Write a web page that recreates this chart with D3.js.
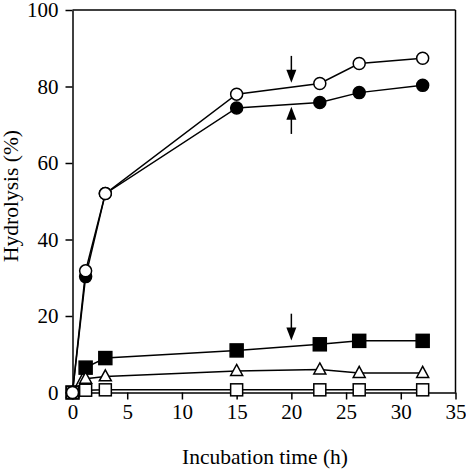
<!DOCTYPE html>
<html><head><meta charset="utf-8">
<script src="https://cdn.jsdelivr.net/npm/d3@7"></script>
<style>body{margin:0;background:#fff}svg{display:block}</style>
</head><body>
<svg id="c" width="466" height="471"></svg>
<script>
const xTicks = [0,5,10,15,20,25,30,35];
const yTicks = [0,20,40,60,80,100];
const timesMain = [0,1.2,3,15,22.6,26.2,32];
const openCircle = [0,31.8,52,78,80.8,86,87.4];
const filledCircle = [0,30.3,52,74.4,75.8,78.4,80.3];
const filledSquare = [0,6.5,9,11,12.6,13.5,13.5];
const openTriangle = [0,3.6,4.2,5.6,6.0,5.1,5.1];
const openSquare = [0,0.6,0.7,0.7,0.7,0.7,0.7];
const arrowX = [20,20,20];
const arrowFrom = [88,67.6,20.6];
const arrowTo = [81,74.7,13.6];

const FONT = '"Liberation Serif"';
const svg = d3.select("#c").attr("font-family",FONT);
const x = d3.scaleLinear().domain([0,35]).range([72.5,455.5]);
const y = d3.scaleLinear().domain([0,100]).range([392.5,10]);

svg.append("line").attr("x1",x(0)).attr("x2",x(35)).attr("y1",y(100)).attr("y2",y(100)).attr("stroke","#000").attr("stroke-width",1.5);
svg.append("line").attr("x1",x(35)).attr("x2",x(35)).attr("y1",y(100)).attr("y2",y(0)).attr("stroke","#000").attr("stroke-width",1.5);

const xa = svg.append("g").attr("transform",`translate(0,${y(0)})`)
  .call(d3.axisBottom(x).tickValues(xTicks).tickSize(7).tickPadding(5).tickSizeOuter(0));
const ya = svg.append("g").attr("transform",`translate(${x(0)},0)`)
  .call(d3.axisLeft(y).tickValues(yTicks).tickSize(7).tickPadding(7).tickSizeOuter(0));
[xa,ya].forEach(a=>{
  a.attr("font-family",FONT).attr("font-size",21);
  a.selectAll("path,line").attr("stroke","#000").attr("stroke-width",1.5);
  a.selectAll("text").attr("font-family",FONT).attr("font-size",21).attr("fill","#000");
});

svg.append("text").attr("x",265).attr("y",464).attr("text-anchor","middle")
  .attr("font-family",FONT).attr("font-size",21.5).text("Incubation time (h)");
svg.append("text").attr("transform",`translate(18,196) rotate(-90)`).attr("text-anchor","middle")
  .attr("font-family",FONT).attr("font-size",21.5).text("Hydrolysis (%)");

const line = d3.line().x(d=>x(d[0])).y(d=>y(d[1]));
function series(vals, shape, fill){
  const pts = timesMain.map((t,i)=>[t,vals[i]]);
  svg.append("path").attr("d",line(pts)).attr("fill","none").attr("stroke","#000").attr("stroke-width",1.5);
  const g = svg.append("g");
  pts.forEach(p=>{
    const cx=x(p[0]), cy=y(p[1]);
    if(shape==="circle"){
      g.append("circle").attr("cx",cx).attr("cy",cy).attr("r",6).attr("fill",fill).attr("stroke","#000").attr("stroke-width",1.5);
    } else if(shape==="square"){
      const s = fill==="#000"?13:12;
      g.append("rect").attr("x",cx-s/2).attr("y",cy-s/2).attr("width",s).attr("height",s).attr("fill",fill).attr("stroke","#000").attr("stroke-width",1.5);
    } else {
      const w=12,h=11;
      g.append("path").attr("d",`M${cx},${cy-h*0.6}L${cx+w/2},${cy+h*0.4}L${cx-w/2},${cy+h*0.4}Z`).attr("fill",fill).attr("stroke","#000").attr("stroke-width",1.5);
    }
  });
}
series(filledSquare,"square","#000");
series(openTriangle,"triangle","#fff");
series(openSquare,"square","#fff");
series(filledCircle,"circle","#000");
series(openCircle,"circle","#fff");

arrowX.forEach((ax,i)=>{
  const tx=x(ax), ty=y(arrowTo[i]), tail=y(arrowFrom[i]);
  const sgn = ty>tail?1:-1;
  svg.append("line").attr("x1",tx).attr("x2",tx).attr("y1",tail).attr("y2",ty-sgn*8).attr("stroke","#000").attr("stroke-width",1.5);
  svg.append("path").attr("d",`M${tx},${ty}L${tx-5},${ty-sgn*13}L${tx+5},${ty-sgn*13}Z`).attr("fill","#000");
});
</script>
</body></html>
